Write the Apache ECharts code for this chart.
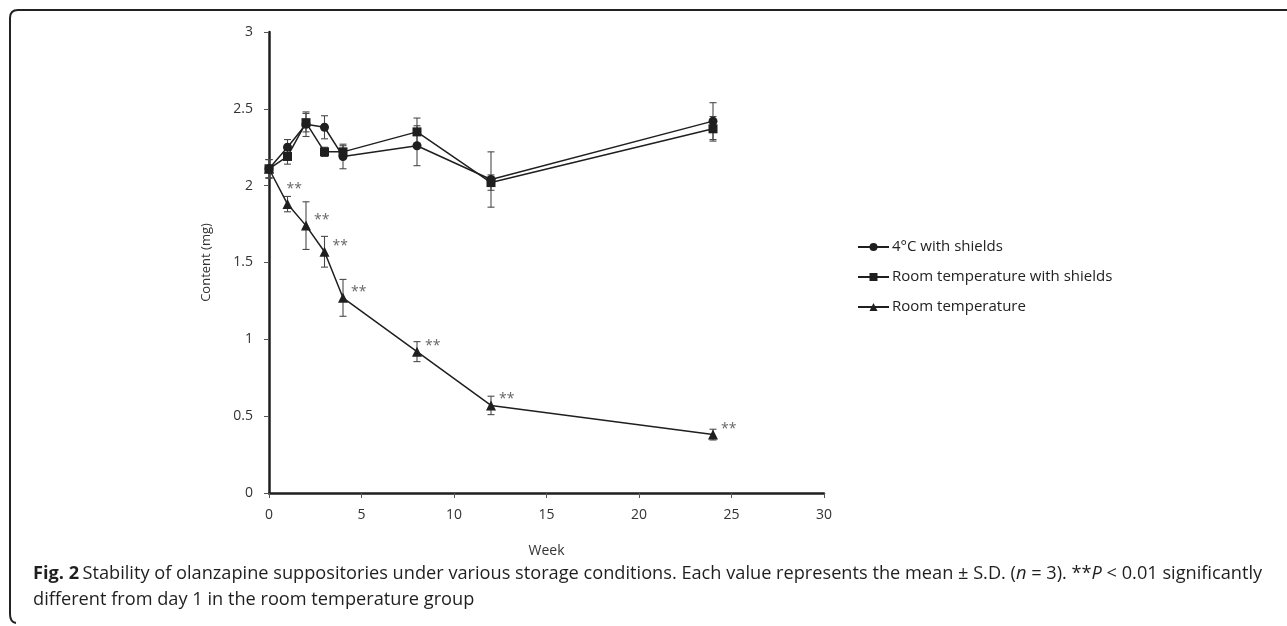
<!DOCTYPE html>
<html>
<head>
<meta charset="utf-8">
<script src="https://cdn.jsdelivr.net/npm/echarts@6/dist/echarts.min.js"></script>
<style>
html,body{margin:0;padding:0;background:#fff;}
#chart{width:1287px;height:626px;}
</style>
</head>
<body>
<div id="chart"></div>
<script>
const weeks = [0, 1, 2, 3, 4, 8, 12, 24];
const cold = [2.11, 2.25, 2.40, 2.38, 2.19, 2.26, 2.04, 2.42];
const coldSD = [0.06, 0.05, 0.08, 0.075, 0.08, 0.13, 0.18, 0.12];
const shield = [2.11, 2.19, 2.41, 2.22, 2.22, 2.35, 2.02, 2.37];
const shieldSD = [0.06, 0.05, 0.06, 0.03, 0.04, 0.09, 0.05, 0.08];
const room = [2.11, 1.88, 1.74, 1.57, 1.27, 0.92, 0.57, 0.38];
const roomSD = [0.06, 0.05, 0.155, 0.10, 0.12, 0.065, 0.06, 0.035];
const sig = ['', '**', '**', '**', '**', '**', '**', '**'];
const names = ['4°C with shields', 'Room temperature with shields', 'Room temperature'];
const yTicks = [0, 0.5, 1, 1.5, 2, 2.5, 3];
const xTicks = [0, 5, 10, 15, 20, 25, 30];

const FONT = 'Open Sans';
const INK = '#1f1f1f';
const chart = echarts.init(document.getElementById('chart'));

function pairs(vals) { return weeks.map((w, i) => [w, vals[i]]); }
function errData(vals, sd) { return weeks.map((w, i) => [w, vals[i] - sd[i], vals[i] + sd[i]]); }
function errSeries(vals, sd) {
  return {
    type: 'custom',
    silent: true,
    z: 1,
    data: errData(vals, sd),
    renderItem: function (params, api) {
      const x = api.value(0);
      const lo = api.coord([x, api.value(1)]);
      const hi = api.coord([x, api.value(2)]);
      const w = 3.5;
      const style = { stroke: '#4a4a4a', lineWidth: 1.1 };
      return {
        type: 'group',
        children: [
          { type: 'line', shape: { x1: lo[0], y1: lo[1], x2: hi[0], y2: hi[1] }, style: style },
          { type: 'line', shape: { x1: lo[0] - w, y1: lo[1], x2: lo[0] + w, y2: lo[1] }, style: style },
          { type: 'line', shape: { x1: hi[0] - w, y1: hi[1], x2: hi[0] + w, y2: hi[1] }, style: style }
        ]
      };
    }
  };
}

const lineStyle = { color: INK, width: 1.5 };
const itemStyle = { color: INK };
const frameStyle = { stroke: '#222', lineWidth: 2, fill: null };

const roomData = weeks.map((w, i) => {
  const item = { value: [w, room[i]] };
  if (i === 1) item.label = { offset: [-9, -15] };
  return item;
});

chart.setOption({
  animation: false,
  grid: { left: 269, right: 463, top: 32, bottom: 133 },
  xAxis: {
    type: 'value', min: xTicks[0], max: xTicks[xTicks.length - 1], interval: 5,
    name: 'Week', nameLocation: 'middle', nameGap: 51,
    nameTextStyle: { fontFamily: FONT, fontSize: 14, color: '#333' },
    axisLine: { lineStyle: { color: INK, width: 2.5 } },
    axisTick: { show: true, length: 5, lineStyle: { color: '#555', width: 1 } },
    axisLabel: { fontFamily: FONT, fontSize: 14, color: '#333', margin: 15 },
    splitLine: { show: false }
  },
  yAxis: {
    type: 'value', min: yTicks[0], max: yTicks[yTicks.length - 1], interval: 0.5,
    name: 'Content (mg)', nameLocation: 'middle', nameGap: 56, nameRotate: 90,
    nameTextStyle: { fontFamily: FONT, fontSize: 13, color: '#333' },
    axisLine: { show: true, lineStyle: { color: INK, width: 2.5 } },
    axisTick: { show: true, length: 5, lineStyle: { color: '#555', width: 1 } },
    axisLabel: { fontFamily: FONT, fontSize: 14, color: '#333', margin: 16 },
    splitLine: { show: false }
  },
  legend: {
    orient: 'vertical', left: 852, top: 234, itemGap: 14,
    itemWidth: 31, itemHeight: 10,
    textStyle: { fontFamily: FONT, fontSize: 15, color: '#222', lineHeight: 16, padding: [0, 0, 0, -2] },
    data: names
  },
  series: [
    errSeries(cold, coldSD),
    errSeries(shield, shieldSD),
    errSeries(room, roomSD),
    {
      name: names[0], type: 'line', data: pairs(cold), symbol: 'circle', symbolSize: 9,
      lineStyle: lineStyle, itemStyle: itemStyle, z: 3
    },
    {
      name: names[1], type: 'line', data: pairs(shield), symbol: 'rect', symbolSize: 9,
      lineStyle: lineStyle, itemStyle: itemStyle, z: 3
    },
    {
      name: names[2], type: 'line', data: roomData, symbol: 'triangle', symbolSize: 10,
      lineStyle: lineStyle, itemStyle: itemStyle, z: 3,
      label: {
        show: true, position: 'right', distance: 3, offset: [0, -6],
        fontFamily: FONT, fontSize: 14, color: '#666',
        formatter: function (p) { return sig[p.dataIndex]; }
      }
    }
  ],
  graphic: [
    { type: 'line', silent: true, shape: { x1: 18, y1: 10, x2: 1287, y2: 10 }, style: frameStyle },
    { type: 'line', silent: true, shape: { x1: 10, y1: 18, x2: 10, y2: 614 }, style: frameStyle },
    { type: 'bezierCurve', silent: true, shape: { x1: 10, y1: 18, cpx1: 10, cpy1: 10, x2: 18, y2: 10 }, style: frameStyle },
    { type: 'bezierCurve', silent: true, shape: { x1: 10, y1: 614, cpx1: 10, cpy1: 622, x2: 16, y2: 623 }, style: frameStyle },
    {
      type: 'text', silent: true,
      style: {
        x: 33, y: 574, verticalAlign: 'middle',
        rich: {
          b: { fontFamily: FONT, fontSize: 18.2, fontWeight: 'bold', fill: INK },
          n: { fontFamily: FONT, fontSize: 18.2, fill: INK },
          i: { fontFamily: FONT, fontSize: 18.2, fontStyle: 'italic', fill: INK }
        },
        text: '{b|Fig. 2} {n|Stability of olanzapine suppositories under various storage conditions. Each value represents the mean ± S.D. (}{i|n}{n| = 3). **}{i|P}{n| < 0.01 significantly}'
      }
    },
    {
      type: 'text', silent: true,
      style: { x: 33, y: 600, verticalAlign: 'middle', text: 'different from day 1 in the room temperature group', fontFamily: FONT, fontSize: 18.2, fill: INK }
    }
  ]
});
</script>
</body>
</html>
